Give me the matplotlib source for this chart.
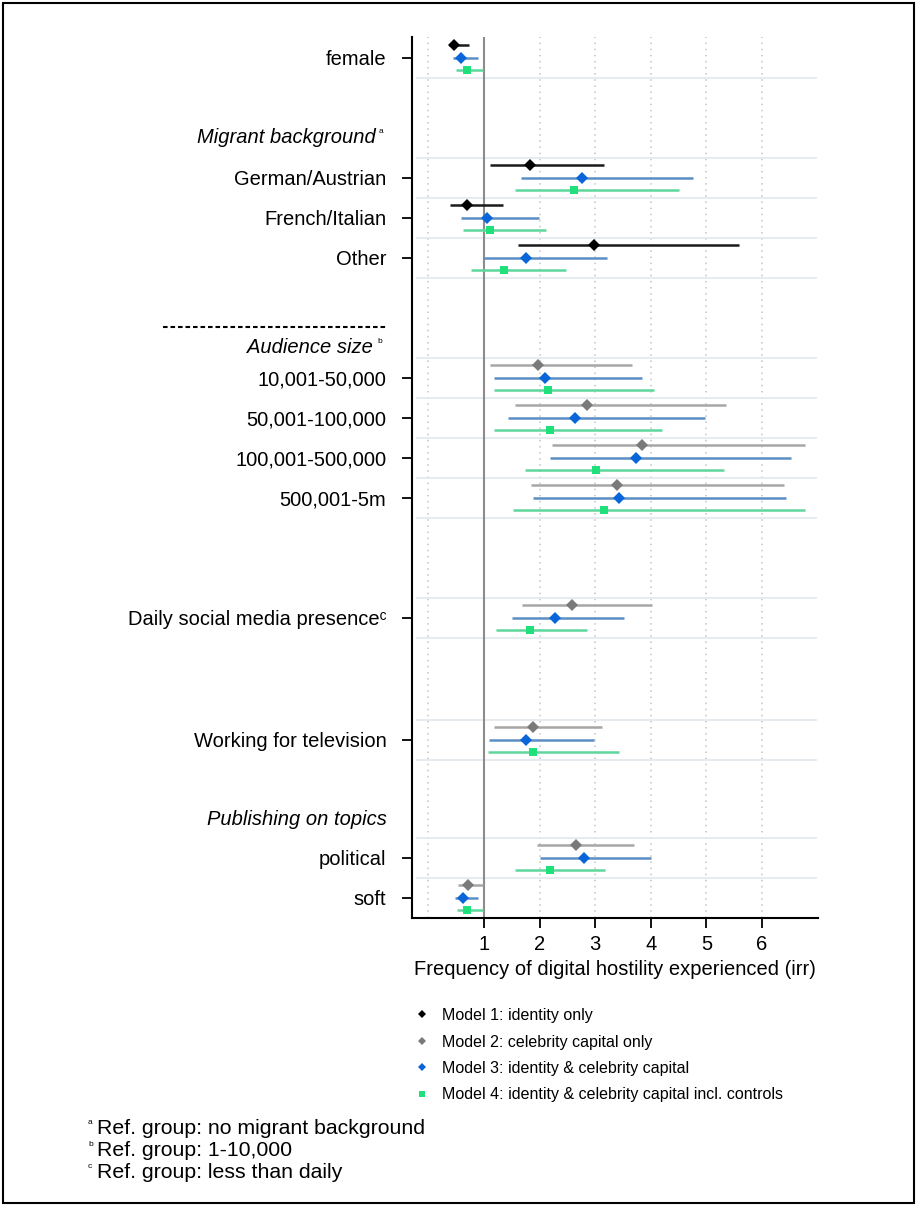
import matplotlib
matplotlib.use('Agg')
import numpy as np
import matplotlib.pyplot as plt
from matplotlib.lines import Line2D
from matplotlib.patches import Rectangle
from matplotlib.transforms import blended_transform_factory

plt.rcParams['font.family'] = ['Liberation Sans', 'DejaVu Sans']

nan = np.nan

# --- Predictors (y-axis), top to bottom ---
labels = ['female', 'German/Austrian', 'French/Italian', 'Other',
          '10,001-50,000', '50,001-100,000', '100,001-500,000', '500,001-5m',
          'Daily social media presence\u1d9c', 'Working for television',
          'political', 'soft']

# --- Incidence rate ratios with confidence bounds, per model ---
m1_est = [0.46, 1.82, 0.69, 2.98, nan, nan, nan, nan, nan, nan, nan, nan]
m1_lo  = [0.37, 1.10, 0.38, 1.62, nan, nan, nan, nan, nan, nan, nan, nan]
m1_hi  = [0.73, 3.15, 1.35, 5.58, nan, nan, nan, nan, nan, nan, nan, nan]

m2_est = [nan, nan, nan, nan, 1.98, 2.86, 3.84, 3.40, 2.58, 1.88, 2.65, 0.72]
m2_lo  = [nan, nan, nan, nan, 1.11, 1.55, 2.22, 1.85, 1.68, 1.18, 1.95, 0.54]
m2_hi  = [nan, nan, nan, nan, 3.67, 5.35, 6.77, 6.39, 4.03, 3.13, 3.69, 0.99]

m3_est = [0.59, 2.76, 1.05, 1.76, 2.09, 2.64, 3.74, 3.43, 2.27, 1.76, 2.79, 0.63]
m3_lo  = [0.44, 1.66, 0.59, 0.99, 1.18, 1.44, 2.19, 1.88, 1.50, 1.09, 2.01, 0.48]
m3_hi  = [0.89, 4.75, 1.99, 3.21, 3.84, 4.97, 6.53, 6.43, 3.52, 2.98, 4.00, 0.90]

m4_est = [0.69, 2.61, 1.11, 1.36, 2.16, 2.19, 3.01, 3.16, 1.82, 1.88, 2.19, 0.69]
m4_lo  = [0.50, 1.56, 0.62, 0.77, 1.18, 1.18, 1.74, 1.52, 1.21, 1.08, 1.56, 0.51]
m4_hi  = [0.98, 4.51, 2.12, 2.47, 4.06, 4.21, 5.31, 6.77, 2.85, 3.42, 3.18, 0.99]

model_names = ['Model 1: identity only',
               'Model 2: celebrity capital only',
               'Model 3: identity & celebrity capital',
               'Model 4: identity & celebrity capital incl. controls']

xticks = [1, 2, 3, 4, 5, 6]

# --- Layout ---
row_pos = np.array([0, 3, 4, 5, 8, 9, 10, 11, 14, 17.05, 20, 21])
FS = 14.5

# (est, lo, hi, marker, marker colour, line colour, offset, marker size)
models = [
    (m1_est, m1_lo, m1_hi, 'D', '#000000', '#1a1a1a', -0.32, 6.0),
    (m2_est, m2_lo, m2_hi, 'D', '#7a7a7a', '#a6a6a6', -0.32, 6.0),
    (m3_est, m3_lo, m3_hi, 'D', '#0a66d8', '#5b8fc4', 0.0, 6.0),
    (m4_est, m4_lo, m4_hi, 's', '#1fe07a', '#5ed79c', 0.30, 6.0),
]

W, H = 916, 1205
fig = plt.figure(figsize=(W / 100, H / 100), dpi=100)
fig.patch.set_facecolor('white')

ax_l, ax_r, ax_t, ax_b = 412, 818, 37, 918
ax = fig.add_axes([ax_l / W, 1 - ax_b / H, (ax_r - ax_l) / W, (ax_b - ax_t) / H])

px_per_unit = 55.6
ax.set_xlim(1 - (484 - ax_l) / px_per_unit, 1 + (ax_r - 484) / px_per_unit)
ax.set_ylim(21.5, -0.525)

# dotted vertical guides and the reference line at irr = 1
for gx in [0, 2, 3, 4, 5, 6]:
    ax.axvline(gx, color='#c4c4c4', lw=1.1, ls=(0, (1, 3)), zorder=0)
ax.axvline(1, color='#8c8c8c', lw=1.5, zorder=1)

# faint row separators
seps = sorted(set(np.round(np.concatenate([row_pos - 0.5, row_pos + 0.5]), 2)))
for sy in seps:
    if sy > 0:
        ax.axhline(sy, xmin=0.012, xmax=0.995, color='#e4e9ef', lw=1.3, zorder=0)

for est, lo, hi, mk, mc, lc, off, ms in models:
    est = np.asarray(est, float)
    lo = np.asarray(lo, float)
    hi = np.asarray(hi, float)
    ok = ~np.isnan(est)
    y = row_pos[ok] + off
    ax.hlines(y, lo[ok], hi[ok], color=lc, lw=1.8, zorder=2)
    ax.plot(est[ok], y, ls='none', marker=mk, ms=ms, color=mc,
            markeredgewidth=0, zorder=3)

ax.set_yticks(row_pos)
ax.set_yticklabels(labels, fontsize=FS)
ax.set_xticks(xticks)
ax.set_xticklabels([str(t) for t in xticks], fontsize=FS)
ax.tick_params(axis='both', length=7.5, width=1.3, color='black')
ax.tick_params(axis='y', pad=11)
ax.tick_params(axis='x', pad=5)
ax.set_xlabel('Frequency of digital hostility experienced (irr)', fontsize=FS, labelpad=4)

for s in ['top', 'right']:
    ax.spines[s].set_visible(False)
for s in ['left', 'bottom']:
    ax.spines[s].set_linewidth(1.5)

# group headings
tr = blended_transform_factory(fig.transFigure, ax.transData)
ax.text(376 / W, 2.0, 'Migrant background', transform=tr, ha='right', va='center',
        fontsize=FS, style='italic', clip_on=False)
ax.text(379 / W, 1.85, 'a', transform=tr, ha='left', va='center', fontsize=6, clip_on=False)
ax.text(373 / W, 7.25, 'Audience size', transform=tr, ha='right', va='center',
        fontsize=FS, style='italic', clip_on=False)
ax.text(377 / W, 7.1, 'b', transform=tr, ha='left', va='center', fontsize=6, clip_on=False)
ax.text(387 / W, 19.05, 'Publishing on topics', transform=tr, ha='right', va='center',
        fontsize=FS, style='italic', clip_on=False)
ax.add_line(Line2D([163 / W, 386 / W], [6.72, 6.72], transform=tr, color='black',
                   lw=1.5, ls=(0, (2.2, 1.4)), clip_on=False))

# legend
handles = [Line2D([], [], ls='none', marker=m[3], color=m[4], ms=4.5, markeredgewidth=0)
           for m in models]
fig.legend(handles, model_names, loc='upper left', bbox_to_anchor=(416 / W, 1 - 1008 / H),
           frameon=False, fontsize=11.5, handlelength=0.8, handletextpad=0.85,
           labelspacing=0.72, borderpad=0, borderaxespad=0)

# reference group notes
notes = ['Ref. group: no migrant background', 'Ref. group: 1-10,000', 'Ref. group: less than daily']
for i, (sup, note) in enumerate(zip('abc', notes)):
    yy = 1128 + 22 * i
    fig.text(88 / W, 1 - (yy - 5) / H, sup, fontsize=6, ha='left', va='center')
    fig.text(97 / W, 1 - yy / H, note, fontsize=15.3, ha='left', va='center')

fig.add_artist(Rectangle((3 / W, 2 / H), 911 / W, 1200 / H, transform=fig.transFigure,
                         fill=False, edgecolor='black', lw=1.5))

fig.savefig('out.png', dpi=100, facecolor='white')
